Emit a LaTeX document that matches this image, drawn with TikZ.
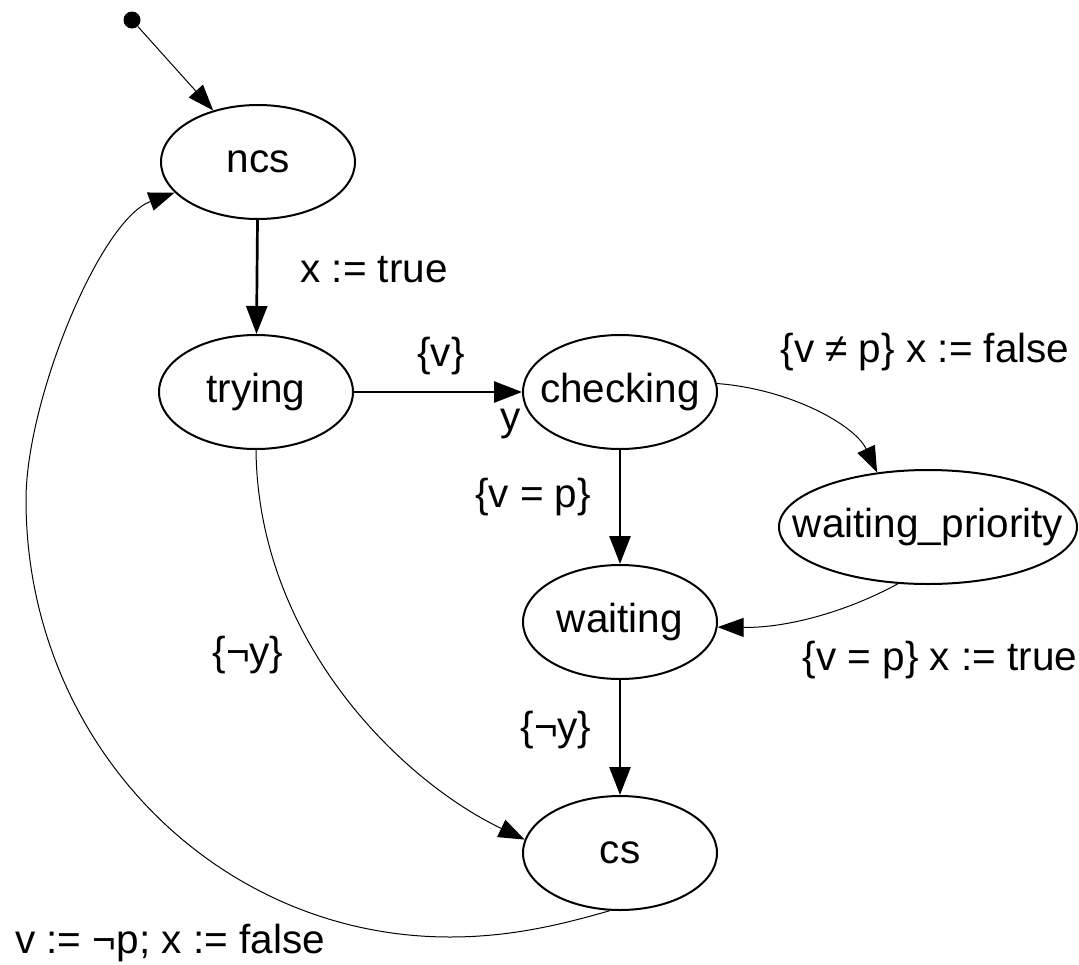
\documentclass[tikz,border=0pt]{standalone}
\usepackage{fontspec}
\setmainfont{Liberation Sans}
\usetikzlibrary{shapes.geometric,arrows.meta}
\begin{document}
\begin{tikzpicture}[x=1pt,y=1pt,
  every node/.style={font=\fontsize{40.5}{46}\selectfont},
  state/.style={ellipse,draw,line width=2pt,minimum width=194pt,minimum height=114pt,inner xsep=-40pt,inner ysep=0pt},
  thick edge/.style={line width=2.7pt,-{Triangle[length=28pt,width=21pt]}},
  thin edge/.style={line width=1pt,-{Triangle[length=26pt,width=19pt]}},
  lbl/.style={inner sep=0pt}]
\useasboundingbox (0,0) rectangle (1079,-964);
\node[state] (ncs) at (258,-162) {ncs};
\node[state] (trying) at (256,-392) {trying};
\node[state] (checking) at (620,-392) {checking};
\node[state,minimum width=298pt] (wp) at (928,-527) {waiting\_priority};
\node[state] (waiting) at (620,-622) {waiting};
\node[state] (cs) at (620,-853) {cs};
\node[circle,fill,inner sep=0pt,minimum size=17pt] (init) at (132,-20) {};
\draw[thin edge] (init) -- (ncs.131);
\draw[thick edge] (ncs) -- (trying);
\draw[thick edge] (trying) -- (checking);
\draw[thick edge] (checking) -- (waiting);
\draw[thick edge] (waiting) -- (cs);
\draw[thin edge] (checking.5) .. controls (790,-389) and (855,-425) .. (wp.133);
\draw[thin edge] (wp.-118) .. controls (850,-610) and (790,-628) .. (waiting.-3);
\draw[thin edge] (trying.-90) .. controls (258,-640) and (400,-780) .. (cs.172);
\draw[thin edge] (cs.-100) .. controls (560,-925) and (510,-937) .. (450,-937)
   .. controls (214,-937) and (26,-741) .. (26,-500)
   .. controls (26,-400) and (100,-220) .. (ncs);
\node[lbl] (l1) at (374,-270) {x := true};
\node[lbl] (l2) at (441,-356) {\{v\}};
\node[lbl] (l3) at (511,-424) {y};
\node[lbl] (l4) at (925,-352) {\{v ≠ p\} x := false};
\node[lbl] (l5) at (533,-497) {\{v = p\}};
\node[lbl] (l6) at (940,-660) {\{v = p\} x := true};
\node[lbl] (l7) at (248,-655) {\{¬y\}};
\node[lbl] (l8) at (556,-730) {\{¬y\}};
\node[lbl] (l9) at (170,-943) {v := ¬p; x := false};
\end{tikzpicture}
\end{document}
